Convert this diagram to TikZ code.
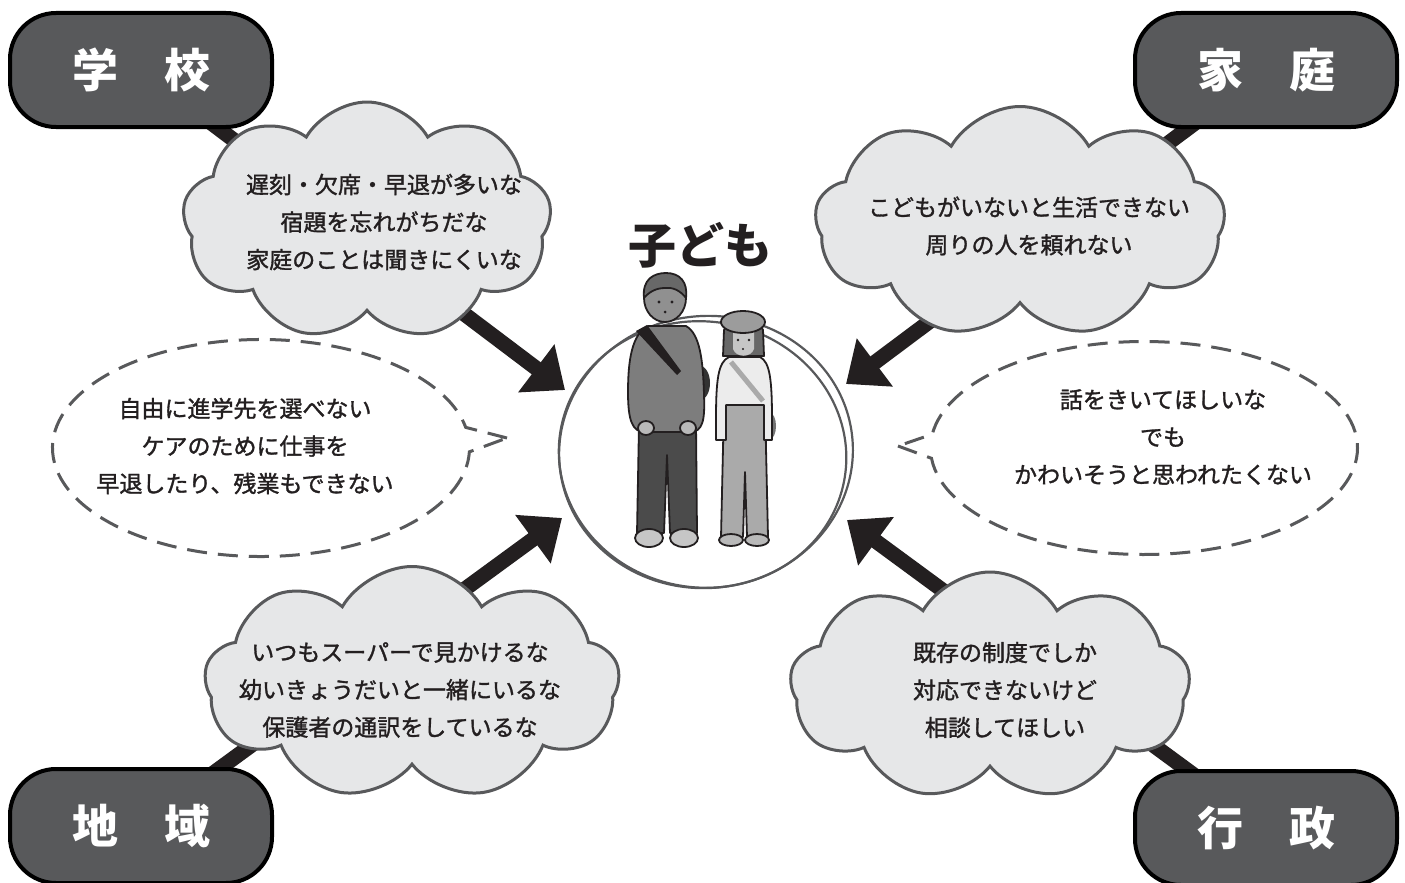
\documentclass[tikz,border=0pt]{standalone}
\usepackage{fontspec}
\setmainfont{Noto Sans CJK JP}
\newfontfamily\handjp{Noto Sans CJK JP}[FakeBold=1.4]
\usetikzlibrary{positioning,shapes.symbols,shapes.callouts,shapes.geometric,arrows.meta}

\definecolor{pillgray}{HTML}{58595B}
\definecolor{cloudgray}{HTML}{E6E7E8}
\definecolor{edgegray}{HTML}{58595B}
\definecolor{ink}{HTML}{231F20}
\definecolor{coatgray}{HTML}{7D7D7D}
\definecolor{pantsgray}{HTML}{4B4B4B}
\definecolor{skingray}{HTML}{909090}
\definecolor{hairgray}{HTML}{686868}
\definecolor{shirtgray}{HTML}{ECECEC}
\definecolor{overallgray}{HTML}{AAAAAA}
\definecolor{hatgray}{HTML}{9C9C9C}

\pgfdeclarelayer{paper}
\pgfdeclarelayer{back}
\pgfsetlayers{paper,back,main}

\tikzset{
  pill/.style={rectangle, rounded corners=46pt, minimum width=262pt,
    minimum height=114pt, fill=pillgray, draw=black, line width=4pt,
    text=white, font=\fontsize{46}{46}\selectfont\bfseries},
  thought/.style={cloud, cloud puffs=9, cloud puff arc=120,
    cloud ignores aspect, inner sep=0pt, draw=edgegray, line width=3pt,
    fill=cloudgray},
  voice/.style={ellipse callout, callout pointer arc=13, inner sep=0pt,
    draw=edgegray, line width=3pt, dash pattern=on 20pt off 11pt},
  words/.style={inner sep=0pt, align=center, text=ink,
    font=\handjp\fontsize{23}{37.5}\selectfont},
  push/.style={line width=15pt, draw=ink, -{Triangle[length=36pt,width=58pt]}},
  ring/.style={draw=edgegray, line width=2.2pt},
  kidline/.style={draw=ink, line width=1.8pt, line join=round},
  kidtag/.style={inner sep=0pt, text=ink, font=\fontsize{48}{48}\selectfont\bfseries},
}

\begin{document}
\begin{tikzpicture}[x=1pt,y=-1pt]
  \useasboundingbox (0,0) rectangle (1405,883);
  \begin{pgfonlayer}{paper}
    \fill[white] (0,0) rectangle (1405,883);
  \end{pgfonlayer}

  % the four sides around the kids
  \node[pill] (school) at (141,70)  {学\quad 校};
  \node[pill] (home)   at (1266,70) {家\quad 庭};
  \node[pill] (town)   at (141,826) {地\quad 域};
  \node[pill] (city)   at (1266,828) {行\quad 政};

  % the kids in the middle
  \node[ellipse, minimum width=292pt, minimum height=272pt, inner sep=0pt] (kids) at (706,452) {};
  \node[kidtag, above=47pt of kids, xshift=-6pt] (kidsname) {子ども};

  \coordinate (tipA) at (565,390);
  \coordinate (tipB) at (846,384);
  \coordinate (tipC) at (562,518);
  \coordinate (tipD) at (847,520);

  \begin{pgfonlayer}{back}
    \draw[push] (school.center) -- (tipA);
    \draw[push] (home.center) -- (tipB);
    \draw[push] (town.center) -- (tipC);
    \draw[push] (city.center) -- (tipD);
  \end{pgfonlayer}

  % what each side thinks
  \node[thought, minimum width=369pt, minimum height=238pt] (thinkA) at (367,221) {};
  \node[thought, minimum width=410pt, minimum height=231pt] (thinkB) at (1020,222) {};
  \node[thought, minimum width=415pt, minimum height=233pt] (thinkC) at (412,683) {};
  \node[thought, minimum width=400pt, minimum height=228pt] (thinkD) at (990,686) {};
  \node[words] (textA) at (384,222)
    {遅刻・欠席・早退が多いな\\宿題を忘れがちだな\\家庭のことは聞きにくいな};
  \node[words] (textB) at (1029,226)
    {こどもがいないと生活できない\\周りの人を頼れない};
  \node[words] (textC) at (400,690)
    {いつもスーパーで見かけるな\\幼いきょうだいと一緒にいるな\\保護者の通訳をしているな};
  \node[words] (textD) at (1005,690)
    {既存の制度でしか\\対応できないけど\\相談してほしい};

  % what the kids would say
  \node[voice, callout absolute pointer={(507,438)}, minimum width=417pt,
    minimum height=217pt] (sayA) at (261,448) {};
  \node[voice, callout absolute pointer={(898,446)}, minimum width=427pt,
    minimum height=213pt] (sayB) at (1144,448) {};
  \node[words] (textE) at (245,446)
    {自由に進学先を選べない\\ケアのために仕事を\\早退したり、残業もできない};
  \node[words] (textF) at (1163,437)
    {話をきいてほしいな\\でも\\かわいそうと思われたくない};

  % hand drawn ring
  \draw[ring, rotate around={6:(kids.center)}] (kids.center) ellipse (147 and 136);
  \draw[ring, rotate around={-9:(kids.center)}] ([shift={(-3,3)}]kids.center) ellipse (144 and 133);

  % boy
  \fill[black!80] (700,383) ellipse (10 and 17);
  \filldraw[kidline, fill=pantsgray] (639,424) -- (637,533) -- (664,533) -- (667,455)
    -- (670,533) -- (697,533) -- (696,424) -- cycle;
  \filldraw[kidline, fill=gray!45] (649,538) ellipse (14 and 9);
  \filldraw[kidline, fill=gray!45] (684,538) ellipse (14 and 9);
  \filldraw[kidline, fill=coatgray] (648,326) .. controls (632,334) and (628,360) .. (628,392)
    .. controls (628,420) and (632,432) .. (645,432) -- (690,432)
    .. controls (703,432) and (705,420) .. (704,395)
    .. controls (703,360) and (700,334) .. (686,326) -- cycle;
  \filldraw[kidline, fill=gray!55] (646,428) ellipse (8 and 7);
  \filldraw[kidline, fill=gray!55] (688,428) ellipse (8 and 7);
  \fill[ink] (636,331) -- (647,325) -- (681,371) -- (677,375) -- cycle;
  \filldraw[kidline, fill=skingray] (665,298) ellipse (21 and 24);
  \filldraw[kidline, fill=hairgray] (644,298) .. controls (642,279) and (654,273) .. (666,273)
    .. controls (680,273) and (688,282) .. (686,298)
    .. controls (680,290) and (672,287) .. (665,288)
    .. controls (656,288) and (649,292) .. (644,298) -- cycle;
  \fill[ink] (659,302) circle (1.7) (672,302) circle (1.7) (665,312) circle (1.5);

  % girl
  \fill[black!55] (770,426) ellipse (6 and 13);
  \filldraw[kidline, fill=overallgray] (724,404) -- (721,537) -- (743,537) -- (745,472)
    -- (747,537) -- (768,537) -- (765,404) -- cycle;
  \filldraw[kidline, fill=gray!55] (731,540) ellipse (12 and 6);
  \filldraw[kidline, fill=gray!55] (757,540) ellipse (12 and 6);
  \filldraw[kidline, fill=shirtgray] (729,357) .. controls (718,362) and (716,380) .. (716,420)
    -- (716,440) -- (726,440) -- (726,405) -- (764,405) -- (764,440) -- (772,440)
    -- (772,420) .. controls (772,380) and (770,362) .. (760,357) -- cycle;
  \draw[overallgray, line width=5pt] (731,362) -- (763,401);
  \filldraw[kidline, fill=hairgray] (723,356) -- (724,330) .. controls (726,318) and (761,318)
    .. (763,330) -- (764,356) -- cycle;
  \fill[gray!45] (733,331) -- (754,331) -- (754,349) .. controls (751,358) and (736,358)
    .. (733,349) -- cycle;
  \filldraw[kidline, fill=hatgray] (743,322) ellipse (22 and 11);
  \fill[ink] (738,340) circle (1.4) (749,340) circle (1.4) (743,349) circle (1.2);
\end{tikzpicture}
\end{document}
